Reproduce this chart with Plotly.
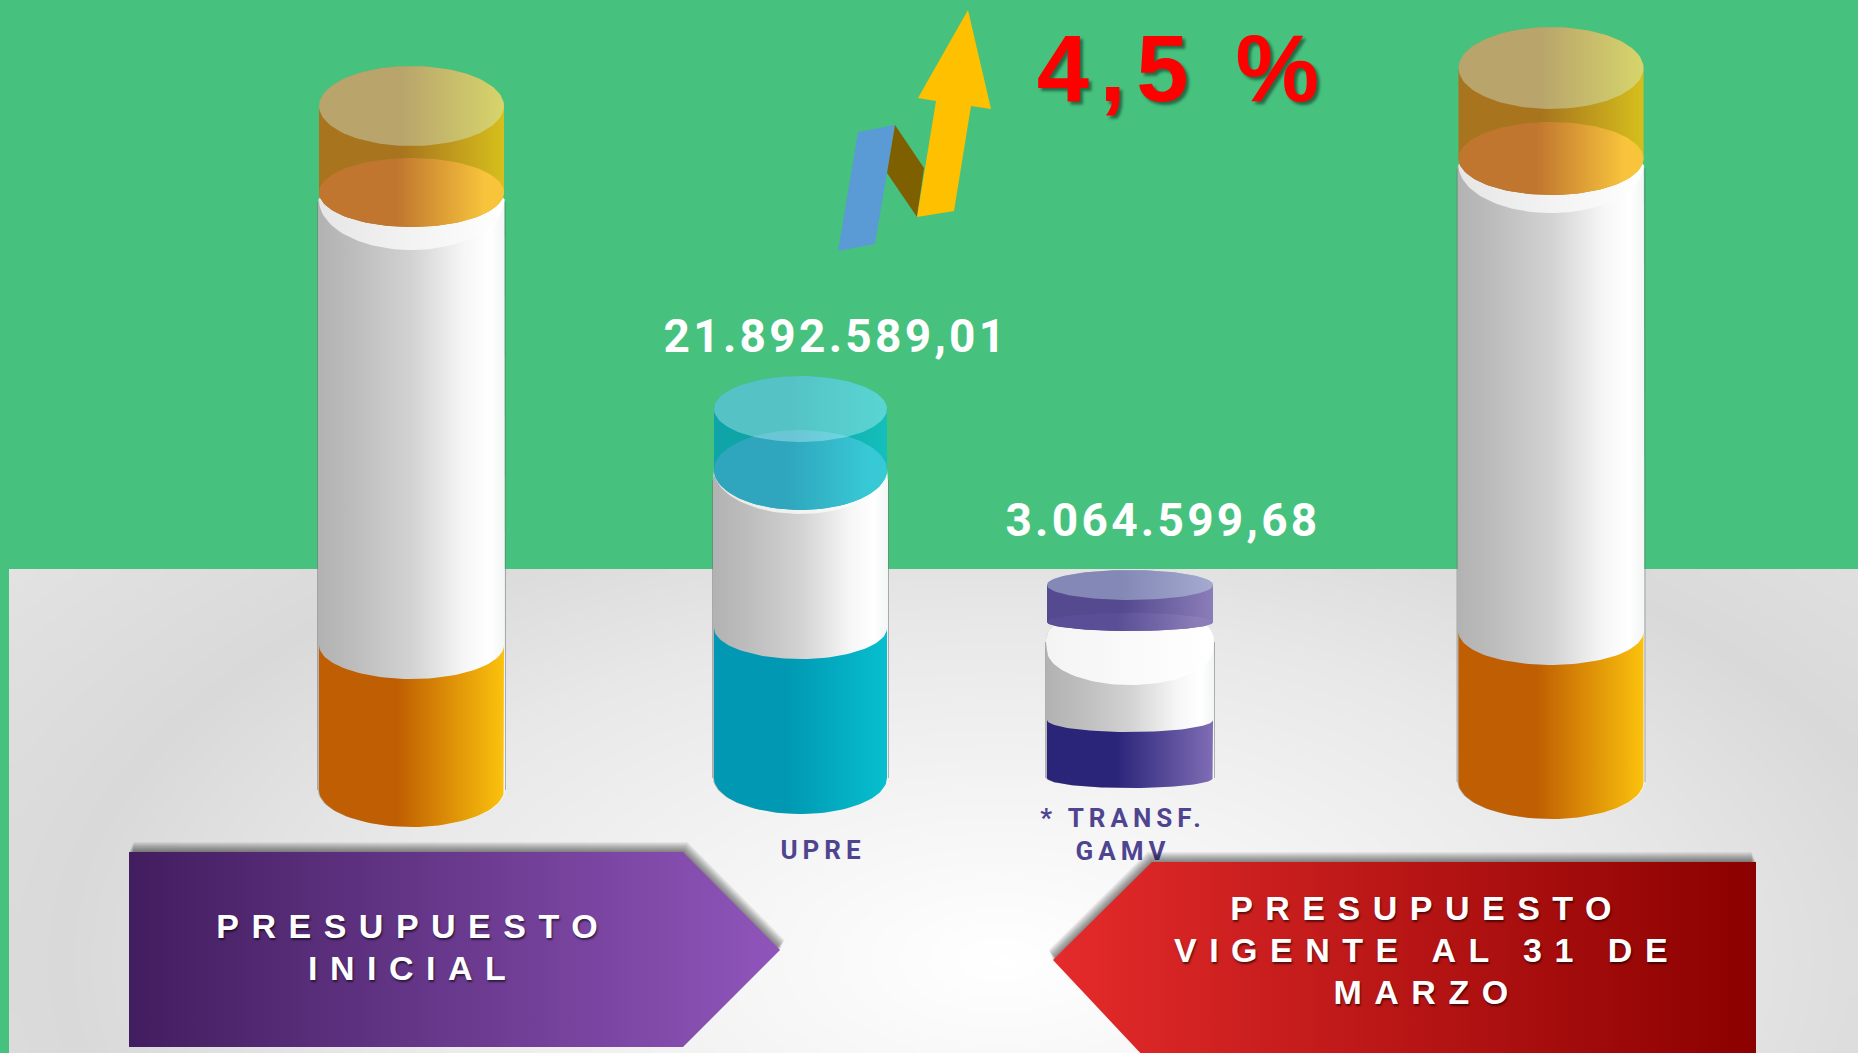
import numpy as np
import plotly.graph_objects as go

W, H = 1858, 1053

# ---------- chart data ----------
categories = ["PRESUPUESTO INICIAL", "UPRE", "* TRANSF.<br>GAMV", "PRESUPUESTO VIGENTE"]
value_labels = ["", "21.892.589,01", "3.064.599,68", ""]
cap_top = [106, 409, 585, 68]
cap_bottom = [192.5, 470, 622, 158.5]
liquid_top = [645, 628, 720, 632]
base_level = [790, 778, 778, 782]
growth_label = "4,5 %"
banner_left = "PRESUPUESTO<br>INICIAL"
banner_right = "PRESUPUESTO<br>VIGENTE AL 31 DE<br>MARZO"

# ---------- geometry / styling ----------
cx_list = [411.5, 800.5, 1130, 1551]
rx_list = [92.5, 86.5, 83, 92.5]
ry_cap = [40, 33, 15, 41]
ry_low = [34.5, 40, 9, 36.5]
ry_liq = [34, 31, 12, 33]
ry_base = [37, 36, 10, 37]
arc_edge = [200, 470, 650, 165]
arc_bottom = [250, 514, 685, 213]
cap_cols = [["#A8751E", "#A8751E", "#D6BF1C"], ["#0EA4A8", "#0EA4A8", "#14BFBB"],
            ["#55498F", "#55498F", "#8A7DB8"], ["#A8751E", "#A8751E", "#D6BF1C"]]
low_cols = [["#C0762F", "#C0762F", "#F8C43C", "#F8C43C"], ["#2FA6BD", "#2FA6BD", "#38C9D6", "#38C9D6"],
            ["#5A4E96", "#5A4E96", "#8A7DB8", "#8A7DB8"], ["#C0762F", "#C0762F", "#F8C43C", "#F8C43C"]]
liq_cols = [["#BF5E02", "#BF5E02", "#FBC20D"], ["#0098B2", "#0098B2", "#07BFCF"],
            ["#2B257A", "#2B257A", "#7F6DB5"], ["#BF5E02", "#BF5E02", "#FBC20D"]]
label_pos = [None, (823, 852), (1123, 837), None]
value_pos = [None, (836, 340), (1163, 524), None]

fig = go.Figure()


def grad(cols, stops=None):
    stops = stops if stops is not None else np.linspace(0, 1, len(cols))
    return dict(type="horizontal", colorscale=[[float(s), c] for s, c in zip(stops, cols)])


def poly(xs, ys, gradient=None, color=None, line=None):
    kw = dict(x=list(xs), y=list(ys), mode="lines", fill="toself", hoverinfo="skip",
              showlegend=False, line=line or dict(width=0, color="rgba(0,0,0,0)"))
    if gradient:
        kw["fillgradient"] = gradient
    else:
        kw["fillcolor"] = color
    fig.add_trace(go.Scatter(**kw))


def half(cx, rx, yc, ry, lower=True, rev=False):
    t = np.linspace(0, np.pi, 60)
    xs = cx - rx * np.cos(t)
    ys = yc + (ry if lower else -ry) * np.sin(t)
    if rev:
        xs, ys = xs[::-1], ys[::-1]
    return xs, ys


# floor background: soft radial highlight with a darker ring
nx, ny = 90, 40
dx = (W - 9) / nx
dy = (H - 569) / ny
gx = 9 + dx * (np.arange(nx) + 0.5)
gy = 569 + dy * (np.arange(ny) + 0.5)
GX, GY = np.meshgrid(gx, gy)
d = np.sqrt(((GX - 1000) / 1000) ** 2 + ((GY - 960) / 520) ** 2)
fig.add_trace(go.Heatmap(x=gx, y=gy, z=d, zmin=0, zmax=1.3, zsmooth="best",
                         colorscale=[[0, "#FFFFFF"], [0.2, "#F6F6F6"], [0.5, "#E8E8E8"],
                                     [0.72, "#D9D9D9"], [1, "#E4E4E4"]],
                         showscale=False, hoverinfo="skip"))

glass = ["#B2B2B2", "#BDBDBD", "#D2D2D2", "#F6F6F6", "#FFFFFF", "#F2F6F4"]
glass_stops = [0, 0.2, 0.5, 0.78, 0.92, 1]
LID = "rgba(217,254,255,0.35)"

for i in range(4):
    cx, rx = cx_list[i], rx_list[i]
    w = rx + 1
    # glass body with rounded shoulders
    x1, y1 = half(cx, w, base_level[i], ry_base[i])
    top = cap_bottom[i] - (2 if i == 2 else -3)
    r = 22 if i == 2 else 7
    t = np.linspace(0, np.pi / 2, 12)
    shx = list(cx + w - r + r * np.sin(t)[::-1])
    shy = list(top + r - r * np.cos(t)[::-1])
    shx2 = list(cx - w + r - r * np.sin(t))
    shy2 = list(top + r - r * np.cos(t))
    poly(list(x1) + shx + shx2, list(y1) + shy + shy2, gradient=grad(glass, glass_stops))
    for sx in (cx - w - 0.5, cx + w + 0.5):
        fig.add_trace(go.Scatter(x=[sx, sx], y=[top + r, base_level[i]], mode="lines",
                                 hoverinfo="skip", showlegend=False,
                                 line=dict(width=1, color="rgba(110,110,110,0.5)")))
    # lighter collar below the cap
    x2, y2 = half(cx, rx, arc_edge[i], arc_bottom[i] - arc_edge[i])
    poly(list(x2) + shx + shx2, list(y2) + shy + shy2,
         gradient=grad(["#E6E6E6", "#FFFFFF"] if i != 2 else ["#F4F4F4", "#FFFFFF"]))
    # liquid
    xa, ya = half(cx, rx, liquid_top[i], ry_liq[i])
    xb, yb = half(cx, rx, base_level[i], ry_base[i], rev=True)
    poly(list(xa) + list(xb), list(ya) + list(yb),
         gradient=grad(liq_cols[i], [0, 0.42, 1]))
    # cap side wall
    xt, yt = half(cx, rx, cap_top[i], ry_cap[i], lower=False)
    xl, yl = half(cx, rx, cap_bottom[i], ry_low[i], rev=True)
    poly(list(xt) + list(xl), list(yt) + list(yl), gradient=grad(cap_cols[i], [0, 0.45, 1]))
    # upper surface of the contents
    xu, yu = half(cx, rx, cap_bottom[i], ry_low[i], lower=False)
    xd, yd = half(cx, rx, cap_bottom[i], ry_low[i], rev=True)
    poly(list(xu) + list(xd), list(yu) + list(yd), gradient=grad(low_cols[i], [0, 0.42, 0.9, 1]))
    # translucent lid
    xu, yu = half(cx, rx, cap_top[i], ry_cap[i], lower=False)
    xd, yd = half(cx, rx, cap_top[i], ry_cap[i], rev=True)
    poly(list(xu) + list(xd), list(yu) + list(yd), color=LID)

# growth arrow icon
poly([858, 895, 875, 838], [132, 125, 244, 251], color="#5B9BD5")
poly([895, 924, 917, 887], [125, 168, 217, 173], color="#7F6000")
poly([968, 991, 971, 954, 917, 936, 918], [10, 109, 106, 211, 217, 101, 98], color="#FFC000")

# category and value labels
for i in range(4):
    if label_pos[i]:
        fig.add_trace(go.Scatter(x=[label_pos[i][0]], y=[label_pos[i][1]], mode="text",
                                 text=[categories[i]], hoverinfo="skip", showlegend=False,
                                 textposition="middle center",
                                 textfont=dict(family="Roboto", size=26, color="#4F4490", weight="bold")))
    if value_pos[i]:
        fig.add_trace(go.Scatter(x=[value_pos[i][0]], y=[value_pos[i][1]], mode="text",
                                 text=[value_labels[i]], hoverinfo="skip", showlegend=False,
                                 textposition="middle center",
                                 textfont=dict(family="Roboto", size=46, color="#FFFFFF", weight="bold")))

# banners with blurred shadow
px = [129, 683, 780, 683, 129]
py = [852, 852, 950, 1047, 1047]
rx_ = [1756, 1152, 1053, 1145, 1756]
ry_ = [862, 862, 960, 1058, 1058]
for k in range(10, 0, -1):
    poly([v + k * 0.45 for v in px], [v - k * 1.0 for v in py], color="rgba(0,0,0,0.055)")
    poly([v - k * 0.45 for v in rx_], [v - k * 1.0 for v in ry_], color="rgba(0,0,0,0.055)")
poly(px, py, gradient=grad(["#421D5F", "#9055BB"]))
poly(rx_, ry_, gradient=grad(["#E52B2B", "#8B0000"]))

shadow = "1px 2px 2px rgba(0,0,0,0.55)"
annotations = [
    dict(x=413, y=947.5, text=banner_left,
         font=dict(family="Liberation Sans", size=34, color="#FFFFFF", weight="bold", shadow=shadow)),
    dict(x=1427, y=952, text=banner_right,
         font=dict(family="Liberation Sans", size=34, color="#FFFFFF", weight="bold", shadow=shadow)),
    dict(x=1183, y=68, text=growth_label,
         font=dict(family="Liberation Sans", size=94, color="#FF0000", weight="bold",
                   shadow="3px 3px 3px rgba(0,0,0,0.45)")),
]
for a in annotations:
    a.update(xref="x", yref="y", showarrow=False, xanchor="center", yanchor="middle", align="center")

fig.update_layout(
    width=W, height=H, margin=dict(l=0, r=0, t=0, b=0),
    paper_bgcolor="#46C27E", plot_bgcolor="#46C27E", showlegend=False,
    xaxis=dict(range=[0, W], visible=False, fixedrange=True),
    yaxis=dict(range=[H, 0], visible=False, fixedrange=True),
    annotations=annotations,
)

post = """
document.body.style.margin='0';document.body.style.overflow='hidden';
var sp=[['PRESUPUESTO',12.5],['INICIAL',12.5],['VIGENTE',12.5],['MARZO',12.5],['UPRE',5],['TRANSF',5],['GAMV',5],['21.892',3.3],['3.064',3.3],['4,5',10.5]];
document.querySelectorAll('svg text').forEach(function(t){sp.forEach(function(s){if(t.textContent.indexOf(s[0])>=0){t.style.letterSpacing=s[1]+'px';}});});
document.querySelectorAll('.annotation-text tspan.line').forEach(function(t){if(t.getAttribute('dy')){var n=parseFloat(t.getAttribute('dy'));t.setAttribute('dy',(n/1.3*1.24)+'em');}});
"""
fig.write_html("out.html", post_script=post, config=dict(displayModeBar=False))
